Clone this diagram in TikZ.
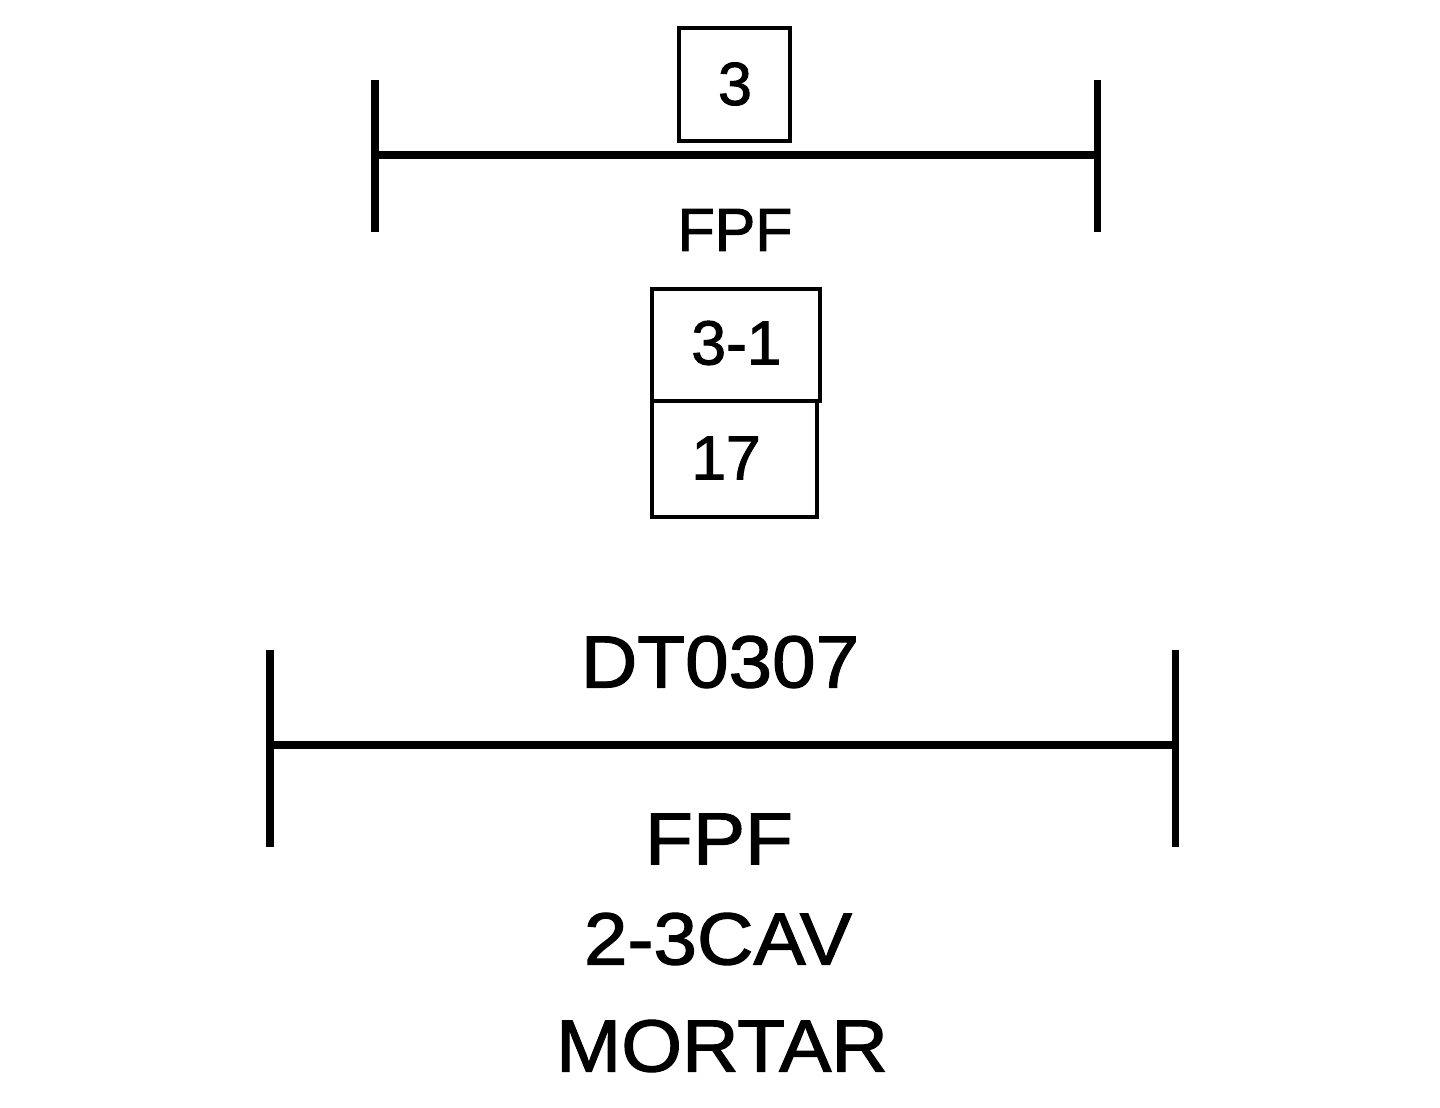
\documentclass[tikz,border=0pt]{standalone}
\usepackage{fontspec}
\setmainfont[FakeBold=1.6, FakeStretch=1.06]{Liberation Sans}
\newfontfamily\plainsans[FakeBold=1.6]{Liberation Sans}

\tikzset{
  bar/.style={line width=4.6pt},
  tick/.style={line width=4pt},
  boxline/.style={line width=1.8pt},
  smalltxt/.style={inner sep=0pt, font=\plainsans\fontsize{34.6}{40}\selectfont},
  midtxt/.style={inner sep=0pt, font=\plainsans\fontsize{35.5}{42}\selectfont},
  bigtxt/.style={inner sep=0pt, font=\fontsize{42}{48}\selectfont},
}

\begin{document}
\begin{tikzpicture}[x=0.02cm, y=-0.02cm]
\useasboundingbox (0,0) rectangle (1440,1108);

% upper line: FPF with box 3
\coordinate (ul) at (375,155);
\coordinate (ur) at (1097,155);
\draw[bar] (ul) -- (ur);
\draw[tick] (375,80) -- (375,232);
\draw[tick] (1097,80) -- (1097,232);

\draw[boxline] (679,28) rectangle (790,141);
\node[smalltxt] (num) at (735,84) {3};
\node[smalltxt] (fpfa) at (735,230) {FPF};

% stacked boxes: 3-1 over 17
\draw[boxline] (652,289) rectangle (820,401);
\draw[boxline] (652,401) rectangle (817,517);
\node[midtxt, anchor=west] (unit) at (691,343) {3-1};
\node[midtxt, anchor=west] (tgt) at (691,458) {17};

% lower line: DT0307
\coordinate (ll) at (270,745);
\coordinate (lr) at (1175,745);
\draw[bar] (ll) -- (lr);
\draw[tick] (270,650) -- (270,847);
\draw[tick] (1175,650) -- (1175,847);

\node[bigtxt] (dt) at (720,662) {DT0307};
\node[bigtxt] (fpfb) at (719,839) {FPF};
\node[bigtxt] (cav) at (718,939) {2-3CAV};
\node[bigtxt] (mort) at (722,1046) {MORTAR};

\end{tikzpicture}
\end{document}
